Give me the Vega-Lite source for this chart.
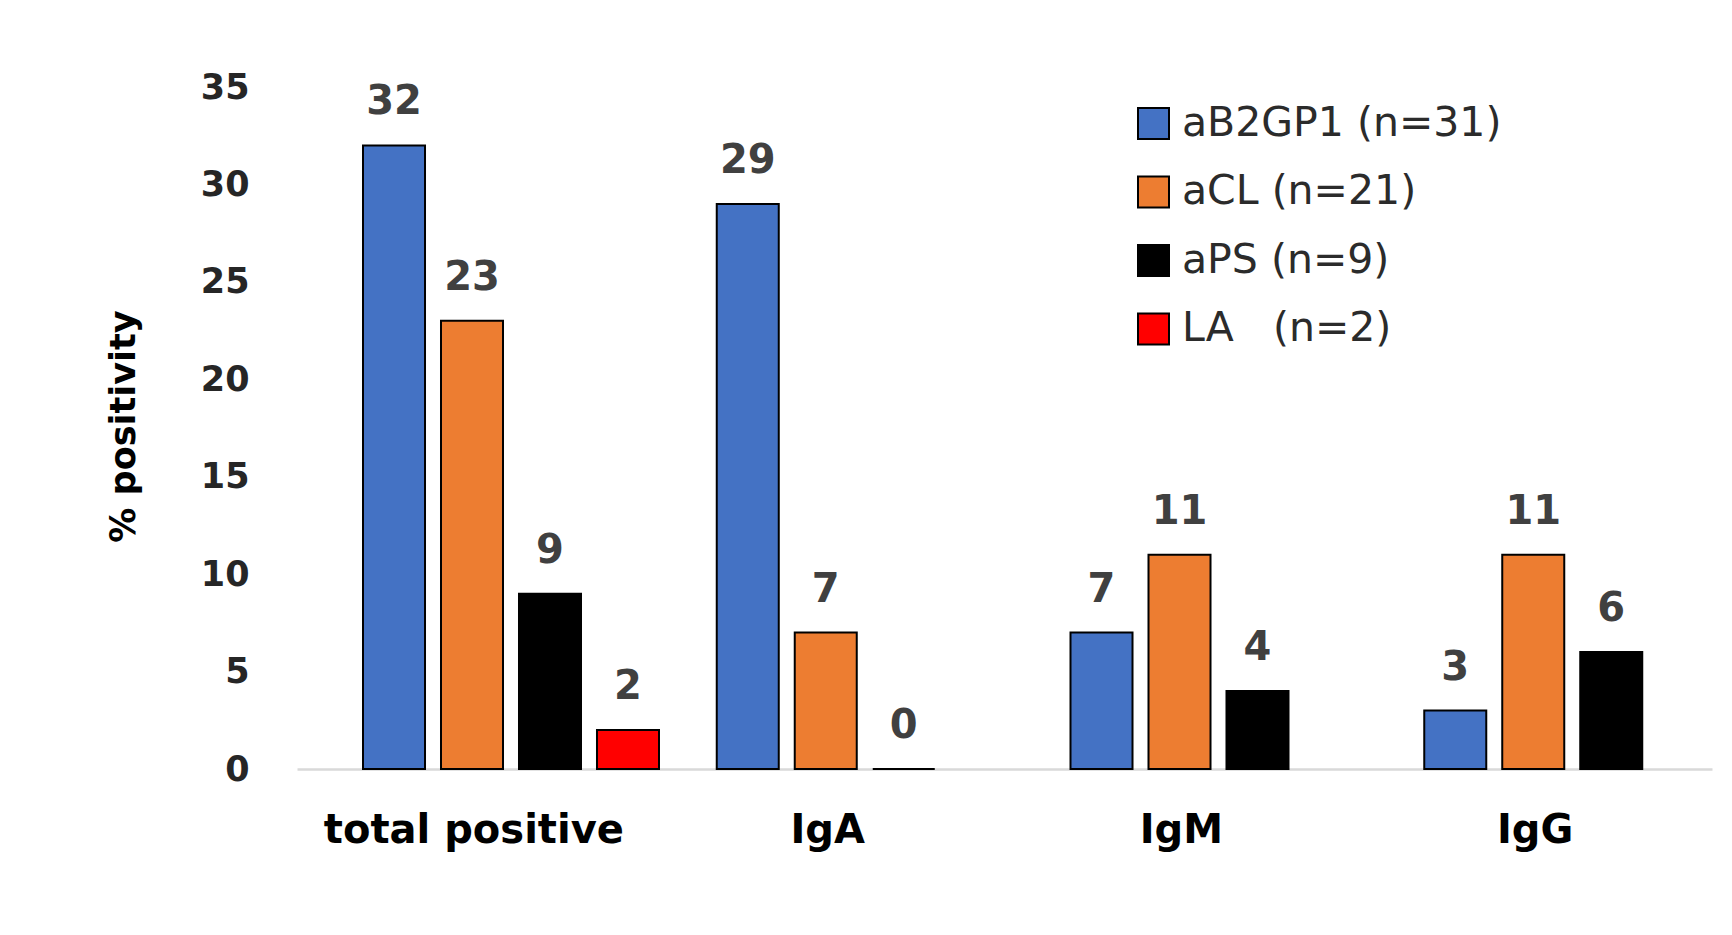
{
  "$schema": "https://vega.github.io/schema/vega-lite/v6.json",
  "width": 1415,
  "height": 682,
  "autosize": {"type": "none"},
  "padding": {"left": 297, "top": 87, "right": 20, "bottom": 166},
  "background": "white",
  "config": {"view": {"stroke": null}, "font": "DejaVu Sans"},
  "data": {
    "values": [
      {"category": "total positive", "antibody": "aB2GP1 (n=31)", "value": 32},
      {"category": "total positive", "antibody": "aCL (n=21)", "value": 23},
      {"category": "total positive", "antibody": "aPS (n=9)", "value": 9},
      {"category": "total positive", "antibody": "LA\u00a0\u00a0\u00a0(n=2)", "value": 2},
      {"category": "IgA", "antibody": "aB2GP1 (n=31)", "value": 29},
      {"category": "IgA", "antibody": "aCL (n=21)", "value": 7},
      {"category": "IgA", "antibody": "aPS (n=9)", "value": 0},
      {"category": "IgM", "antibody": "aB2GP1 (n=31)", "value": 7},
      {"category": "IgM", "antibody": "aCL (n=21)", "value": 11},
      {"category": "IgM", "antibody": "aPS (n=9)", "value": 4},
      {"category": "IgG", "antibody": "aB2GP1 (n=31)", "value": 3},
      {"category": "IgG", "antibody": "aCL (n=21)", "value": 11},
      {"category": "IgG", "antibody": "aPS (n=9)", "value": 6}
    ]
  },
  "encoding": {
    "x": {
      "field": "category",
      "type": "nominal",
      "scale": {"domain": ["total positive", "IgA", "IgM", "IgG"], "paddingInner": 0, "paddingOuter": 0},
      "axis": {
        "title": null,
        "labelAngle": 0,
        "labelFont": "DejaVu Sans",
        "labelFontWeight": "bold",
        "labelFontSize": 40,
        "labelColor": "black",
        "labelPadding": 41,
        "labelLimit": 600,
        "ticks": false,
        "tickSize": 0,
        "domainColor": "#d9d9d9",
        "domainWidth": 2.5
      }
    },
    "xOffset": {
      "field": "antibody",
      "type": "nominal",
      "scale": {
        "domain": ["aB2GP1 (n=31)", "aCL (n=21)", "aPS (n=9)", "LA\u00a0\u00a0\u00a0(n=2)"],
        "range": [66, 362],
        "paddingInner": 0.205,
        "paddingOuter": 0
      }
    },
    "y": {
      "field": "value",
      "type": "quantitative",
      "scale": {"domain": [0, 35]},
      "axis": {
        "title": "% positivity",
        "values": [0, 5, 10, 15, 20, 25, 30, 35],
        "grid": false,
        "domain": false,
        "ticks": false,
        "tickSize": 0,
        "labelPadding": 48,
        "labelFont": "DejaVu Sans",
        "labelFontWeight": "bold",
        "labelFontSize": 35,
        "labelColor": "#262626",
        "titleFont": "DejaVu Sans",
        "titleFontWeight": "bold",
        "titleFontSize": 35,
        "titleColor": "black",
        "titleAngle": 270,
        "titleX": -174,
        "titleY": 339,
        "titleAlign": "center",
        "titleBaseline": "middle"
      }
    }
  },
  "layer": [
    {
      "mark": {"type": "bar", "stroke": "black", "strokeWidth": 2},
      "encoding": {
        "color": {
          "field": "antibody",
          "type": "nominal",
          "scale": {
            "domain": ["aB2GP1 (n=31)", "aCL (n=21)", "aPS (n=9)", "LA\u00a0\u00a0\u00a0(n=2)"],
            "range": ["#4472C4", "#ED7D31", "#000000", "#FF0000"]
          },
          "legend": {
            "title": null,
            "orient": "none",
            "legendX": 836,
            "legendY": 16,
            "padding": 0,
            "symbolType": "square",
            "symbolSize": 961,
            "symbolStrokeColor": "black",
            "symbolStrokeWidth": 2,
            "symbolOpacity": 1,
            "labelFont": "DejaVu Sans",
            "labelFontSize": 41,
            "labelColor": "#2b2b2b",
            "labelOffset": 8,
            "labelLimit": 600,
            "rowPadding": 26.5
          }
        }
      }
    },
    {
      "mark": {
        "type": "text",
        "font": "DejaVu Sans",
        "fontWeight": "bold",
        "fontSize": 40,
        "color": "#404040",
        "baseline": "alphabetic",
        "dy": -31
      },
      "encoding": {"text": {"field": "value", "type": "quantitative"}}
    }
  ]
}
